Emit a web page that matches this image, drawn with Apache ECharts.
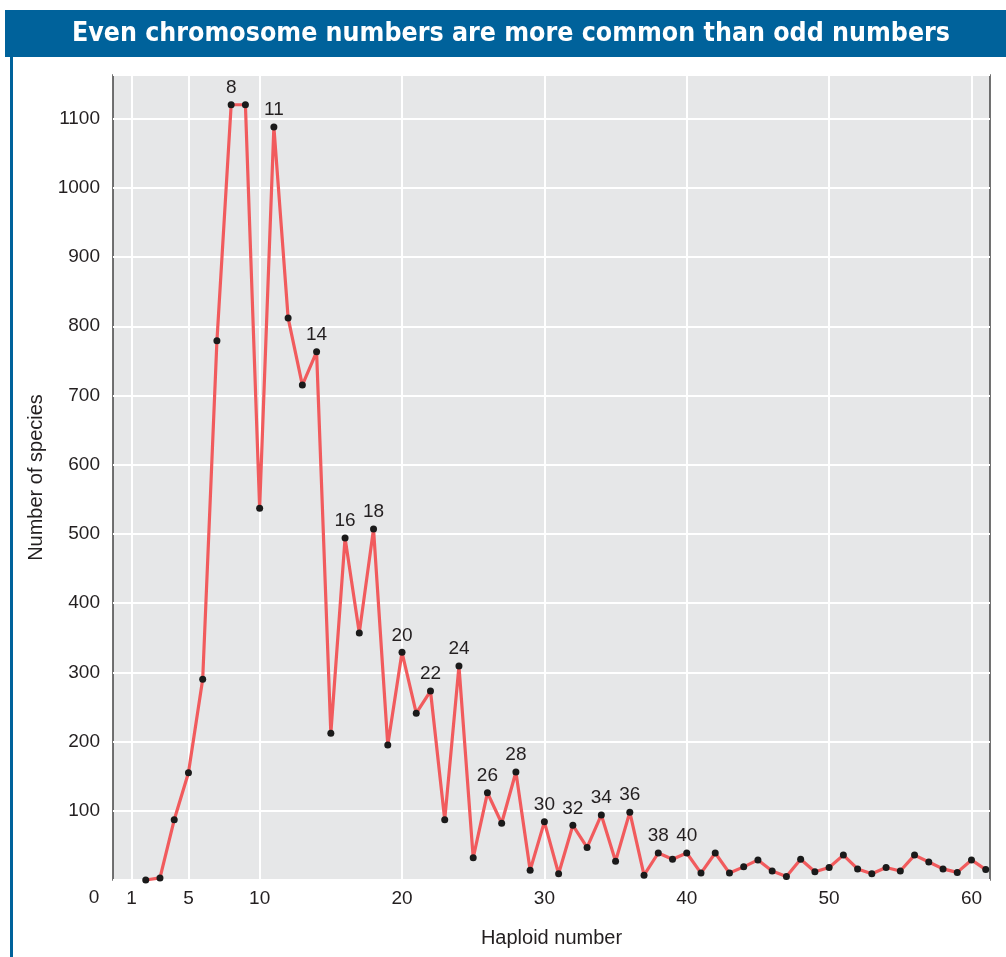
<!DOCTYPE html>
<html>
<head>
<meta charset="utf-8">
<style>html,body{margin:0;padding:0;background:#fff;}#chart{width:1006px;height:957px;}</style>
<script src="https://cdn.jsdelivr.net/npm/echarts@6/dist/echarts.min.js"></script>
</head>
<body>
<div id="chart"></div>
<script>
const titleText = 'Even chromosome numbers are more common than odd numbers';
const haploid = [2,3,4,5,6,7,8,9,10,11,12,13,14,15,16,17,18,19,20,21,22,23,24,25,26,27,28,29,30,31,32,33,34,35,36,37,38,39,40,41,42,43,44,45,46,47,48,49,50,51,52,53,54,55,56,57,58,59,60,61];
const species = [0,3,87,155,290,779,1120,1120,537,1088,812,715,763,212,494,357,507,195,329,241,273,87,309,32,126,82,156,14,84,9,79,47,94,27,98,7,39,30,39,10,39,10,19,29,13,5,30,12,18,36,16,9,18,13,36,26,16,11,29,15];
const labelled = [8,11,14,16,18,20,22,24,26,28,30,32,34,36,38,40];
const xTicks = [1,5,10,20,30,40,50,60];
const xTitle = 'Haploid number';
const yTitle = 'Number of species';

const chart = echarts.init(document.getElementById('chart'), null, {renderer:'canvas'});
const data = haploid.map((h,i)=>[h, species[i]]);
const font = '"Liberation Sans", Arial, Helvetica, sans-serif';

chart.setOption({
  backgroundColor: '#ffffff',
  animation: false,
  grid: {left:113, top:75, right:16, bottom:77, show:true, backgroundColor:'#e6e7e8', borderColor:'#444', borderWidth:1.5},
  xAxis: {
    type:'value', min:-0.3, max:61.3,
    name: xTitle, nameLocation:'middle', nameGap:48,
    nameTextStyle:{fontFamily:font, fontSize:20, color:'#231f20'},
    axisLine:{show:false},
    splitLine:{show:false},
    axisTick:{show:true, customValues:xTicks, inside:true, length:805, lineStyle:{color:'#ffffff', width:2}},
    axisLabel:{customValues:xTicks, margin:9, fontFamily:font, fontSize:19, color:'#231f20'}
  },
  yAxis: {
    type:'value', min:0, max:1163, interval:100,
    name: yTitle, nameLocation:'middle', nameGap:61, nameRotate:90,
    nameTextStyle:{fontFamily:font, fontSize:20, color:'#231f20'},
    axisLine:{show:false}, axisTick:{show:false},
    splitLine:{show:true, lineStyle:{color:'#ffffff', width:2}},
    axisLabel:{margin:13, fontFamily:font, fontSize:19, color:'#231f20',
      formatter:v => (v>0 && v%100===0) ? String(v) : ''}
  },
  graphic: [
    {type:'rect', shape:{x:5, y:10, width:1001, height:47}, style:{fill:'#00629b'}},
    {type:'rect', shape:{x:10, y:57, width:3, height:900}, style:{fill:'#00629b'}},
    {type:'text', x:511, y:34, style:{text:titleText, fill:'#ffffff', align:'center', verticalAlign:'middle',
      font:'bold 26.5px "Liberation Sans Narrow", "DejaVu Sans Condensed", "Open Sans", sans-serif'}},
    {type:'text', x:94, y:898, style:{text:'0', fill:'#231f20', align:'center', verticalAlign:'middle', font:'19px ' + font}}
  ],
  series: [{
    type:'line', data:data, symbol:'circle', symbolSize:7,
    lineStyle:{color:'#f15b5d', width:3.2}, itemStyle:{color:'#1a1a1a'},
    label:{show:true, position:'top', distance:4, fontFamily:font, fontSize:19, color:'#231f20',
      formatter:p => labelled.includes(p.value[0]) ? String(p.value[0]) : ''}
  }]
});
</script>
</body>
</html>
